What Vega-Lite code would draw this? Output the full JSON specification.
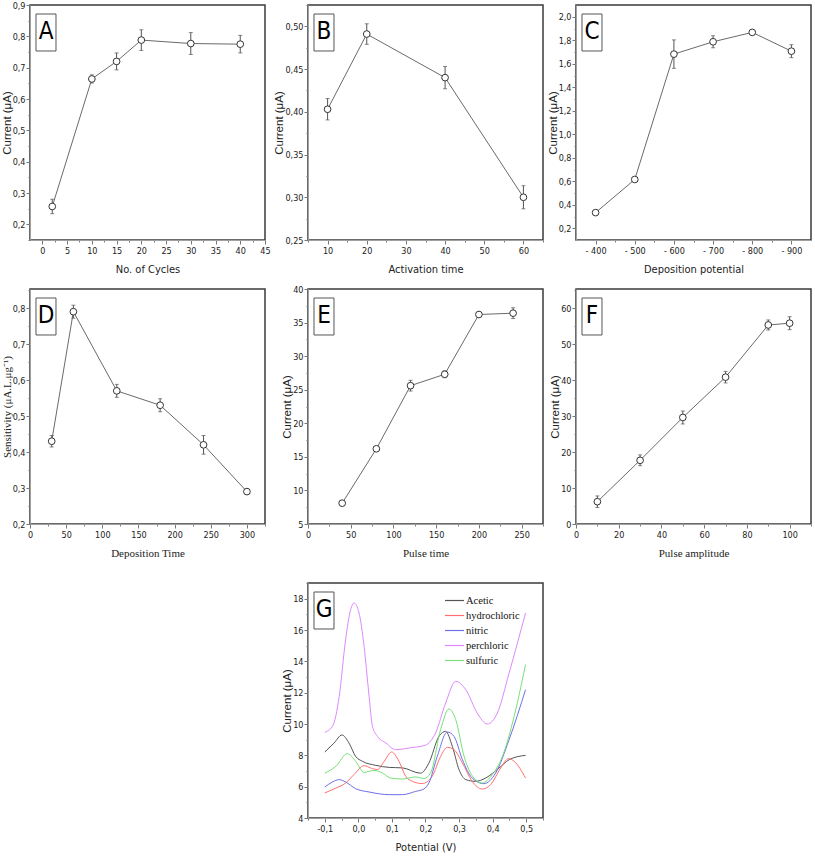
{
  "$schema": "https://vega.github.io/schema/vega-lite/v6.json",
  "background": "white",
  "padding": {"left": 0, "top": 0, "right": 0, "bottom": 0},
  "config": {
    "view": {"stroke": "#3a3a3a", "strokeWidth": 1.5},
    "axis": {
      "grid": false, "domainColor": "#a0a0a0", "domainWidth": 1, "tickColor": "#777", "tickSize": 4,
      "labelFont": "Liberation Sans Narrow, DejaVu Sans Condensed, sans-serif", "labelFontSize": 9, "labelColor": "#222",
      "labelOverlap": false, "labelFlush": false, "labelPadding": 2,
      "titleFont": "Liberation Sans Narrow, DejaVu Sans Condensed, sans-serif", "titleFontSize": 11, "titleFontWeight": "normal", "titleColor": "#222"
    },
    "axisX": {"titlePadding": 8},
    "axisY": {"titlePadding": 0, "labelPadding": 1}
  },
  "datasets": {
    "A": [{"x": 2, "y": 0.257, "e": 0.023}, {"x": 10, "y": 0.664, "e": 0.013}, {"x": 15, "y": 0.72, "e": 0.027}, {"x": 20, "y": 0.788, "e": 0.033}, {"x": 30, "y": 0.777, "e": 0.035}, {"x": 40, "y": 0.775, "e": 0.028}],
    "B": [{"x": 10, "y": 0.403, "e": 0.0125}, {"x": 20, "y": 0.491, "e": 0.012}, {"x": 40, "y": 0.44, "e": 0.013}, {"x": 60, "y": 0.3, "e": 0.0135}],
    "C": [{"x": -400, "y": 0.333, "e": 0.012}, {"x": -500, "y": 0.615, "e": 0.015}, {"x": -600, "y": 1.682, "e": 0.121}, {"x": -700, "y": 1.787, "e": 0.051}, {"x": -800, "y": 1.867, "e": 0.02}, {"x": -900, "y": 1.707, "e": 0.055}],
    "D": [{"x": 30, "y": 0.43, "e": 0.016}, {"x": 60, "y": 0.79, "e": 0.018}, {"x": 120, "y": 0.57, "e": 0.018}, {"x": 180, "y": 0.53, "e": 0.018}, {"x": 240, "y": 0.42, "e": 0.026}, {"x": 300, "y": 0.29, "e": 0.008}],
    "E": [{"x": 40, "y": 8.1, "e": 0.3}, {"x": 80, "y": 16.2, "e": 0.3}, {"x": 120, "y": 25.6, "e": 0.8}, {"x": 160, "y": 27.3, "e": 0.5}, {"x": 200, "y": 36.2, "e": 0.4}, {"x": 240, "y": 36.4, "e": 0.8}],
    "F": [{"x": 10, "y": 6.2, "e": 1.6}, {"x": 30, "y": 17.7, "e": 1.5}, {"x": 50, "y": 29.6, "e": 1.8}, {"x": 70, "y": 40.8, "e": 1.6}, {"x": 90, "y": 55.3, "e": 1.4}, {"x": 100, "y": 55.8, "e": 1.8}],
    "G": [
      {"acid": "Acetic", "v": -0.1, "i": 8.21}, {"acid": "Acetic", "v": -0.072, "i": 8.79}, {"acid": "Acetic", "v": -0.049, "i": 9.3}, {"acid": "Acetic", "v": -0.028, "i": 8.79}, {"acid": "Acetic", "v": -0.008, "i": 7.93}, {"acid": "Acetic", "v": 0.012, "i": 7.62}, {"acid": "Acetic", "v": 0.052, "i": 7.36}, {"acid": "Acetic", "v": 0.092, "i": 7.23}, {"acid": "Acetic", "v": 0.131, "i": 7.2}, {"acid": "Acetic", "v": 0.185, "i": 6.86}, {"acid": "Acetic", "v": 0.21, "i": 7.5}, {"acid": "Acetic", "v": 0.24, "i": 9.21}, {"acid": "Acetic", "v": 0.26, "i": 9.53}, {"acid": "Acetic", "v": 0.28, "i": 8.57}, {"acid": "Acetic", "v": 0.3, "i": 7.08}, {"acid": "Acetic", "v": 0.32, "i": 6.45}, {"acid": "Acetic", "v": 0.349, "i": 6.34}, {"acid": "Acetic", "v": 0.379, "i": 6.55}, {"acid": "Acetic", "v": 0.419, "i": 7.19}, {"acid": "Acetic", "v": 0.449, "i": 7.72}, {"acid": "Acetic", "v": 0.498, "i": 8.0},
      {"acid": "hydrochloric", "v": -0.1, "i": 5.6}, {"acid": "hydrochloric", "v": -0.067, "i": 5.91}, {"acid": "hydrochloric", "v": -0.038, "i": 6.23}, {"acid": "hydrochloric", "v": -0.013, "i": 6.77}, {"acid": "hydrochloric", "v": 0.017, "i": 7.34}, {"acid": "hydrochloric", "v": 0.037, "i": 7.19}, {"acid": "hydrochloric", "v": 0.057, "i": 7.09}, {"acid": "hydrochloric", "v": 0.077, "i": 7.62}, {"acid": "hydrochloric", "v": 0.099, "i": 8.21}, {"acid": "hydrochloric", "v": 0.121, "i": 7.62}, {"acid": "hydrochloric", "v": 0.141, "i": 6.66}, {"acid": "hydrochloric", "v": 0.161, "i": 6.34}, {"acid": "hydrochloric", "v": 0.19, "i": 6.2}, {"acid": "hydrochloric", "v": 0.22, "i": 6.66}, {"acid": "hydrochloric", "v": 0.245, "i": 7.93}, {"acid": "hydrochloric", "v": 0.265, "i": 8.51}, {"acid": "hydrochloric", "v": 0.285, "i": 8.36}, {"acid": "hydrochloric", "v": 0.31, "i": 7.51}, {"acid": "hydrochloric", "v": 0.339, "i": 6.34}, {"acid": "hydrochloric", "v": 0.369, "i": 5.85}, {"acid": "hydrochloric", "v": 0.394, "i": 6.13}, {"acid": "hydrochloric", "v": 0.424, "i": 7.19}, {"acid": "hydrochloric", "v": 0.447, "i": 7.79}, {"acid": "hydrochloric", "v": 0.464, "i": 7.62}, {"acid": "hydrochloric", "v": 0.498, "i": 6.55},
      {"acid": "nitric", "v": -0.1, "i": 5.98}, {"acid": "nitric", "v": -0.077, "i": 6.3}, {"acid": "nitric", "v": -0.057, "i": 6.45}, {"acid": "nitric", "v": -0.038, "i": 6.3}, {"acid": "nitric", "v": -0.008, "i": 5.87}, {"acid": "nitric", "v": 0.032, "i": 5.66}, {"acid": "nitric", "v": 0.092, "i": 5.49}, {"acid": "nitric", "v": 0.131, "i": 5.49}, {"acid": "nitric", "v": 0.171, "i": 5.7}, {"acid": "nitric", "v": 0.195, "i": 5.85}, {"acid": "nitric", "v": 0.21, "i": 6.23}, {"acid": "nitric", "v": 0.235, "i": 7.93}, {"acid": "nitric", "v": 0.265, "i": 9.49}, {"acid": "nitric", "v": 0.285, "i": 9.21}, {"acid": "nitric", "v": 0.31, "i": 7.72}, {"acid": "nitric", "v": 0.339, "i": 6.55}, {"acid": "nitric", "v": 0.374, "i": 6.19}, {"acid": "nitric", "v": 0.409, "i": 6.87}, {"acid": "nitric", "v": 0.449, "i": 9.0}, {"acid": "nitric", "v": 0.498, "i": 12.19},
      {"acid": "perchloric", "v": -0.1, "i": 9.47}, {"acid": "perchloric", "v": -0.077, "i": 9.85}, {"acid": "perchloric", "v": -0.057, "i": 11.77}, {"acid": "perchloric", "v": -0.038, "i": 15.38}, {"acid": "perchloric", "v": -0.023, "i": 17.3}, {"acid": "perchloric", "v": -0.013, "i": 17.72}, {"acid": "perchloric", "v": 0.002, "i": 17.09}, {"acid": "perchloric", "v": 0.017, "i": 14.96}, {"acid": "perchloric", "v": 0.032, "i": 11.77}, {"acid": "perchloric", "v": 0.042, "i": 9.85}, {"acid": "perchloric", "v": 0.057, "i": 9.21}, {"acid": "perchloric", "v": 0.082, "i": 8.79}, {"acid": "perchloric", "v": 0.111, "i": 8.36}, {"acid": "perchloric", "v": 0.151, "i": 8.47}, {"acid": "perchloric", "v": 0.2, "i": 8.65}, {"acid": "perchloric", "v": 0.23, "i": 9.43}, {"acid": "perchloric", "v": 0.26, "i": 11.34}, {"acid": "perchloric", "v": 0.29, "i": 12.72}, {"acid": "perchloric", "v": 0.32, "i": 12.19}, {"acid": "perchloric", "v": 0.354, "i": 10.7}, {"acid": "perchloric", "v": 0.384, "i": 10.0}, {"acid": "perchloric", "v": 0.414, "i": 10.7}, {"acid": "perchloric", "v": 0.449, "i": 13.25}, {"acid": "perchloric", "v": 0.498, "i": 17.09},
      {"acid": "sulfuric", "v": -0.1, "i": 6.87}, {"acid": "sulfuric", "v": -0.067, "i": 7.3}, {"acid": "sulfuric", "v": -0.033, "i": 8.11}, {"acid": "sulfuric", "v": -0.008, "i": 7.62}, {"acid": "sulfuric", "v": 0.017, "i": 6.91}, {"acid": "sulfuric", "v": 0.047, "i": 7.04}, {"acid": "sulfuric", "v": 0.072, "i": 6.87}, {"acid": "sulfuric", "v": 0.096, "i": 6.55}, {"acid": "sulfuric", "v": 0.131, "i": 6.49}, {"acid": "sulfuric", "v": 0.171, "i": 6.62}, {"acid": "sulfuric", "v": 0.195, "i": 6.52}, {"acid": "sulfuric", "v": 0.215, "i": 6.87}, {"acid": "sulfuric", "v": 0.245, "i": 9.64}, {"acid": "sulfuric", "v": 0.27, "i": 10.96}, {"acid": "sulfuric", "v": 0.29, "i": 10.28}, {"acid": "sulfuric", "v": 0.315, "i": 7.93}, {"acid": "sulfuric", "v": 0.344, "i": 6.55}, {"acid": "sulfuric", "v": 0.369, "i": 6.23}, {"acid": "sulfuric", "v": 0.399, "i": 6.77}, {"acid": "sulfuric", "v": 0.429, "i": 7.93}, {"acid": "sulfuric", "v": 0.459, "i": 10.06}, {"acid": "sulfuric", "v": 0.498, "i": 13.79}
    ]
  },
  "bounds": "flush",
  "align": "each",
  "spacing": 0,
  "columns": 5,
  "concat": [
    {
      "width": 235, "height": 235,
      "resolve": {"scale": {"x": "independent", "y": "independent"}},
      "layer": [
        {
          "data": {"name": "A"},
          "encoding": {
            "x": {"field": "x", "type": "quantitative", "title": "No. of Cycles", "scale": {"domain": [-2.5, 45], "nice": false, "zero": false},
                  "axis": {"values": [0, 2.5, 5, 7.5, 10, 12.5, 15, 17.5, 20, 22.5, 25, 27.5, 30, 32.5, 35, 37.5, 40, 42.5, 45],
                           "labelExpr": "datum.value % 5 == 0 ? datum.label : ''",
                           "tickSize": {"condition": {"test": "datum.value % 5 != 0", "value": 2}, "value": 4}}},
            "y": {"field": "y", "type": "quantitative", "title": "Current (μA)", "scale": {"domain": [0.15, 0.9], "nice": false, "zero": false},
                  "axis": {"titleFont": "Liberation Sans, Arial, sans-serif", "titleFontSize": 11.5,
                           "values": [0.15, 0.2, 0.25, 0.3, 0.35, 0.4, 0.45, 0.5, 0.55, 0.6, 0.65, 0.7, 0.75, 0.8, 0.85, 0.9],
                           "labelExpr": "abs(datum.value*10 - round(datum.value*10)) < 0.001 ? replace(format(datum.value, '.1f'), '.', ',') : ''",
                           "tickSize": {"condition": {"test": "abs(datum.value*10 - round(datum.value*10)) > 0.001", "value": 2}, "value": 4}}}
          },
          "layer": [
            {"mark": {"type": "line", "color": "#6a6a6a", "strokeWidth": 1}},
            {"mark": {"type": "errorbar", "ticks": {"size": 4}, "color": "#555", "thickness": 1}, "encoding": {"yError": {"field": "e"}}},
            {"mark": {"type": "point", "shape": "circle", "filled": true, "fill": "white", "stroke": "#333", "strokeWidth": 1, "size": 45, "opacity": 1}}
          ]
        },
        {
          "data": {"values": [{}]},
          "layer": [
            {"mark": {"type": "rect", "fill": "white", "stroke": "#555", "strokeWidth": 1},
             "encoding": {"x": {"datum": 0.0255, "type": "quantitative", "scale": {"domain": [0, 1]}, "axis": null}, "x2": {"datum": 0.1106}, "y": {"datum": 0.9617, "type": "quantitative", "scale": {"domain": [0, 1]}, "axis": null}, "y2": {"datum": 0.8043}}},
            {"mark": {"type": "text", "text": "A", "font": "Liberation Sans Narrow, DejaVu Sans Condensed, sans-serif", "fontSize": 24, "color": "#000", "baseline": "middle", "align": "center"},
             "encoding": {"x": {"datum": 0.0681, "type": "quantitative", "scale": {"domain": [0, 1]}, "axis": null}, "y": {"datum": 0.883, "type": "quantitative", "scale": {"domain": [0, 1]}, "axis": null}}}
          ]
        }
      ]
    },
    {"width": 43, "height": 1, "view": {"stroke": null}, "data": {"values": [{}]}, "mark": {"type": "point", "opacity": 0}, "encoding": {}},
    {
      "width": 235, "height": 235,
      "resolve": {"scale": {"x": "independent", "y": "independent"}},
      "layer": [
        {
          "data": {"name": "B"},
          "encoding": {
            "x": {"field": "x", "type": "quantitative", "title": "Activation time", "scale": {"domain": [5, 65], "nice": false, "zero": false},
                  "axis": {"values": [5, 10, 15, 20, 25, 30, 35, 40, 45, 50, 55, 60, 65],
                           "labelExpr": "datum.value % 10 == 0 ? datum.label : ''",
                           "tickSize": {"condition": {"test": "datum.value % 10 != 0", "value": 2}, "value": 4}}},
            "y": {"field": "y", "type": "quantitative", "title": "Current (μA)", "scale": {"domain": [0.25, 0.525], "nice": false, "zero": false},
                  "axis": {"titleFont": "Liberation Sans, Arial, sans-serif", "titleFontSize": 11.5,
                           "values": [0.25, 0.275, 0.3, 0.325, 0.35, 0.375, 0.4, 0.425, 0.45, 0.475, 0.5, 0.525],
                           "labelExpr": "abs(datum.value*20 - round(datum.value*20)) < 0.001 ? replace(format(datum.value, '.2f'), '.', ',') : ''",
                           "tickSize": {"condition": {"test": "abs(datum.value*20 - round(datum.value*20)) > 0.001", "value": 2}, "value": 4}}}
          },
          "layer": [
            {"mark": {"type": "line", "color": "#6a6a6a", "strokeWidth": 1}},
            {"mark": {"type": "errorbar", "ticks": {"size": 4}, "color": "#555", "thickness": 1}, "encoding": {"yError": {"field": "e"}}},
            {"mark": {"type": "point", "shape": "circle", "filled": true, "fill": "white", "stroke": "#333", "strokeWidth": 1, "size": 45, "opacity": 1}}
          ]
        },
        {
          "data": {"values": [{}]},
          "layer": [
            {"mark": {"type": "rect", "fill": "white", "stroke": "#555", "strokeWidth": 1},
             "encoding": {"x": {"datum": 0.0255, "type": "quantitative", "scale": {"domain": [0, 1]}, "axis": null}, "x2": {"datum": 0.1106}, "y": {"datum": 0.9617, "type": "quantitative", "scale": {"domain": [0, 1]}, "axis": null}, "y2": {"datum": 0.8043}}},
            {"mark": {"type": "text", "text": "B", "font": "Liberation Sans Narrow, DejaVu Sans Condensed, sans-serif", "fontSize": 24, "color": "#000", "baseline": "middle", "align": "center"},
             "encoding": {"x": {"datum": 0.0681, "type": "quantitative", "scale": {"domain": [0, 1]}, "axis": null}, "y": {"datum": 0.883, "type": "quantitative", "scale": {"domain": [0, 1]}, "axis": null}}}
          ]
        }
      ]
    },
    {"width": 33, "height": 1, "view": {"stroke": null}, "data": {"values": [{}]}, "mark": {"type": "point", "opacity": 0}, "encoding": {}},
    {
      "width": 235, "height": 235,
      "resolve": {"scale": {"x": "independent", "y": "independent"}},
      "layer": [
        {
          "data": {"name": "C"},
          "encoding": {
            "x": {"field": "x", "type": "quantitative", "title": "Deposition potential", "scale": {"domain": [-950, -350], "reverse": true, "nice": false, "zero": false},
                  "axis": {"values": [-400, -450, -500, -550, -600, -650, -700, -750, -800, -850, -900],
                           "labelExpr": "datum.value % 100 == 0 ? '- ' + abs(datum.value) : ''",
                           "tickSize": {"condition": {"test": "datum.value % 100 != 0", "value": 2}, "value": 4}}},
            "y": {"field": "y", "type": "quantitative", "title": "Current (μA)", "scale": {"domain": [0.1, 2.1], "nice": false, "zero": false},
                  "axis": {"titleFont": "Liberation Sans, Arial, sans-serif", "titleFontSize": 11.5,
                           "values": [0.2, 0.3, 0.4, 0.5, 0.6, 0.7, 0.8, 0.9, 1.0, 1.1, 1.2, 1.3, 1.4, 1.5, 1.6, 1.7, 1.8, 1.9, 2.0],
                           "labelExpr": "abs(datum.value*5 - round(datum.value*5)) < 0.001 ? replace(format(datum.value, '.1f'), '.', ',') : ''",
                           "tickSize": {"condition": {"test": "abs(datum.value*5 - round(datum.value*5)) > 0.001", "value": 2}, "value": 4}}}
          },
          "layer": [
            {"mark": {"type": "line", "color": "#6a6a6a", "strokeWidth": 1}},
            {"mark": {"type": "errorbar", "ticks": {"size": 4}, "color": "#555", "thickness": 1}, "encoding": {"yError": {"field": "e"}}},
            {"mark": {"type": "point", "shape": "circle", "filled": true, "fill": "white", "stroke": "#333", "strokeWidth": 1, "size": 45, "opacity": 1}}
          ]
        },
        {
          "data": {"values": [{}]},
          "layer": [
            {"mark": {"type": "rect", "fill": "white", "stroke": "#555", "strokeWidth": 1},
             "encoding": {"x": {"datum": 0.0255, "type": "quantitative", "scale": {"domain": [0, 1]}, "axis": null}, "x2": {"datum": 0.1106}, "y": {"datum": 0.9617, "type": "quantitative", "scale": {"domain": [0, 1]}, "axis": null}, "y2": {"datum": 0.8043}}},
            {"mark": {"type": "text", "text": "C", "font": "Liberation Sans Narrow, DejaVu Sans Condensed, sans-serif", "fontSize": 24, "color": "#000", "baseline": "middle", "align": "center"},
             "encoding": {"x": {"datum": 0.0681, "type": "quantitative", "scale": {"domain": [0, 1]}, "axis": null}, "y": {"datum": 0.883, "type": "quantitative", "scale": {"domain": [0, 1]}, "axis": null}}}
          ]
        }
      ]
    },
    {"width": 1, "height": 49, "view": {"stroke": null}, "data": {"values": [{}]}, "mark": {"type": "point", "opacity": 0}, "encoding": {}},
    {"width": 1, "height": 49, "view": {"stroke": null}, "data": {"values": [{}]}, "mark": {"type": "point", "opacity": 0}, "encoding": {}},
    {"width": 1, "height": 49, "view": {"stroke": null}, "data": {"values": [{}]}, "mark": {"type": "point", "opacity": 0}, "encoding": {}},
    {"width": 1, "height": 49, "view": {"stroke": null}, "data": {"values": [{}]}, "mark": {"type": "point", "opacity": 0}, "encoding": {}},
    {"width": 1, "height": 49, "view": {"stroke": null}, "data": {"values": [{}]}, "mark": {"type": "point", "opacity": 0}, "encoding": {}},
    {
      "width": 235, "height": 235,
      "resolve": {"scale": {"x": "independent", "y": "independent"}},
      "layer": [
        {
          "data": {"name": "D"},
          "encoding": {
            "x": {"field": "x", "type": "quantitative", "title": "Deposition Time", "scale": {"domain": [0, 325], "nice": false, "zero": false},
                  "axis": {"titleFont": "Liberation Serif, Times New Roman, serif", "titleFontSize": 11,
                           "values": [0, 25, 50, 75, 100, 125, 150, 175, 200, 225, 250, 275, 300, 325],
                           "labelExpr": "datum.value % 50 == 0 ? datum.label : ''",
                           "tickSize": {"condition": {"test": "datum.value % 50 != 0", "value": 2}, "value": 4}}},
            "y": {"field": "y", "type": "quantitative", "title": "Sensitivity (μA.L.μg⁻¹)", "scale": {"domain": [0.2, 0.853], "nice": false, "zero": false},
                  "axis": {"titleFont": "Liberation Serif, Times New Roman, serif", "titleFontSize": 11,
                           "values": [0.2, 0.25, 0.3, 0.35, 0.4, 0.45, 0.5, 0.55, 0.6, 0.65, 0.7, 0.75, 0.8, 0.85],
                           "labelExpr": "abs(datum.value*10 - round(datum.value*10)) < 0.001 ? replace(format(datum.value, '.1f'), '.', ',') : ''",
                           "tickSize": {"condition": {"test": "abs(datum.value*10 - round(datum.value*10)) > 0.001", "value": 2}, "value": 4}}}
          },
          "layer": [
            {"mark": {"type": "line", "color": "#6a6a6a", "strokeWidth": 1}},
            {"mark": {"type": "errorbar", "ticks": {"size": 4}, "color": "#555", "thickness": 1}, "encoding": {"yError": {"field": "e"}}},
            {"mark": {"type": "point", "shape": "circle", "filled": true, "fill": "white", "stroke": "#333", "strokeWidth": 1, "size": 45, "opacity": 1}}
          ]
        },
        {
          "data": {"values": [{}]},
          "layer": [
            {"mark": {"type": "rect", "fill": "white", "stroke": "#555", "strokeWidth": 1},
             "encoding": {"x": {"datum": 0.0255, "type": "quantitative", "scale": {"domain": [0, 1]}, "axis": null}, "x2": {"datum": 0.1106}, "y": {"datum": 0.9617, "type": "quantitative", "scale": {"domain": [0, 1]}, "axis": null}, "y2": {"datum": 0.8043}}},
            {"mark": {"type": "text", "text": "D", "font": "Liberation Sans Narrow, DejaVu Sans Condensed, sans-serif", "fontSize": 24, "color": "#000", "baseline": "middle", "align": "center"},
             "encoding": {"x": {"datum": 0.0681, "type": "quantitative", "scale": {"domain": [0, 1]}, "axis": null}, "y": {"datum": 0.883, "type": "quantitative", "scale": {"domain": [0, 1]}, "axis": null}}}
          ]
        }
      ]
    },
    {"width": 43, "height": 1, "view": {"stroke": null}, "data": {"values": [{}]}, "mark": {"type": "point", "opacity": 0}, "encoding": {}},
    {
      "width": 235, "height": 235,
      "resolve": {"scale": {"x": "independent", "y": "independent"}},
      "layer": [
        {
          "data": {"name": "E"},
          "encoding": {
            "x": {"field": "x", "type": "quantitative", "title": "Pulse time", "scale": {"domain": [0, 275], "nice": false, "zero": false},
                  "axis": {"titleFont": "Liberation Serif, Times New Roman, serif", "titleFontSize": 11,
                           "values": [0, 25, 50, 75, 100, 125, 150, 175, 200, 225, 250, 275],
                           "labelExpr": "datum.value % 50 == 0 ? datum.label : ''",
                           "tickSize": {"condition": {"test": "datum.value % 50 != 0", "value": 2}, "value": 4}}},
            "y": {"field": "y", "type": "quantitative", "title": "Current (μA)", "scale": {"domain": [5, 40], "nice": false, "zero": false},
                  "axis": {"titleFont": "Liberation Sans, Arial, sans-serif", "titleFontSize": 11.5,
                           "values": [5, 7.5, 10, 12.5, 15, 17.5, 20, 22.5, 25, 27.5, 30, 32.5, 35, 37.5, 40],
                           "labelExpr": "datum.value % 5 == 0 ? datum.label : ''",
                           "tickSize": {"condition": {"test": "datum.value % 5 != 0", "value": 2}, "value": 4}}}
          },
          "layer": [
            {"mark": {"type": "line", "color": "#6a6a6a", "strokeWidth": 1}},
            {"mark": {"type": "errorbar", "ticks": {"size": 4}, "color": "#555", "thickness": 1}, "encoding": {"yError": {"field": "e"}}},
            {"mark": {"type": "point", "shape": "circle", "filled": true, "fill": "white", "stroke": "#333", "strokeWidth": 1, "size": 45, "opacity": 1}}
          ]
        },
        {
          "data": {"values": [{}]},
          "layer": [
            {"mark": {"type": "rect", "fill": "white", "stroke": "#555", "strokeWidth": 1},
             "encoding": {"x": {"datum": 0.0255, "type": "quantitative", "scale": {"domain": [0, 1]}, "axis": null}, "x2": {"datum": 0.1106}, "y": {"datum": 0.9617, "type": "quantitative", "scale": {"domain": [0, 1]}, "axis": null}, "y2": {"datum": 0.8043}}},
            {"mark": {"type": "text", "text": "E", "font": "Liberation Sans Narrow, DejaVu Sans Condensed, sans-serif", "fontSize": 24, "color": "#000", "baseline": "middle", "align": "center"},
             "encoding": {"x": {"datum": 0.0681, "type": "quantitative", "scale": {"domain": [0, 1]}, "axis": null}, "y": {"datum": 0.883, "type": "quantitative", "scale": {"domain": [0, 1]}, "axis": null}}}
          ]
        }
      ]
    },
    {"width": 33, "height": 1, "view": {"stroke": null}, "data": {"values": [{}]}, "mark": {"type": "point", "opacity": 0}, "encoding": {}},
    {
      "width": 235, "height": 235,
      "resolve": {"scale": {"x": "independent", "y": "independent"}},
      "layer": [
        {
          "data": {"name": "F"},
          "encoding": {
            "x": {"field": "x", "type": "quantitative", "title": "Pulse amplitude", "scale": {"domain": [0, 110], "nice": false, "zero": false},
                  "axis": {"titleFont": "Liberation Serif, Times New Roman, serif", "titleFontSize": 11,
                           "values": [0, 10, 20, 30, 40, 50, 60, 70, 80, 90, 100, 110],
                           "labelExpr": "datum.value % 20 == 0 ? datum.label : ''",
                           "tickSize": {"condition": {"test": "datum.value % 20 != 0", "value": 2}, "value": 4}}},
            "y": {"field": "y", "type": "quantitative", "title": "Current (μA)", "scale": {"domain": [0, 65.3], "nice": false, "zero": false},
                  "axis": {"titleFont": "Liberation Sans, Arial, sans-serif", "titleFontSize": 11.5,
                           "values": [0, 5, 10, 15, 20, 25, 30, 35, 40, 45, 50, 55, 60, 65],
                           "labelExpr": "datum.value % 10 == 0 ? datum.label : ''",
                           "tickSize": {"condition": {"test": "datum.value % 10 != 0", "value": 2}, "value": 4}}}
          },
          "layer": [
            {"mark": {"type": "line", "color": "#6a6a6a", "strokeWidth": 1}},
            {"mark": {"type": "errorbar", "ticks": {"size": 4}, "color": "#555", "thickness": 1}, "encoding": {"yError": {"field": "e"}}},
            {"mark": {"type": "point", "shape": "circle", "filled": true, "fill": "white", "stroke": "#333", "strokeWidth": 1, "size": 45, "opacity": 1}}
          ]
        },
        {
          "data": {"values": [{}]},
          "layer": [
            {"mark": {"type": "rect", "fill": "white", "stroke": "#555", "strokeWidth": 1},
             "encoding": {"x": {"datum": 0.0255, "type": "quantitative", "scale": {"domain": [0, 1]}, "axis": null}, "x2": {"datum": 0.1106}, "y": {"datum": 0.9617, "type": "quantitative", "scale": {"domain": [0, 1]}, "axis": null}, "y2": {"datum": 0.8043}}},
            {"mark": {"type": "text", "text": "F", "font": "Liberation Sans Narrow, DejaVu Sans Condensed, sans-serif", "fontSize": 24, "color": "#000", "baseline": "middle", "align": "center"},
             "encoding": {"x": {"datum": 0.0681, "type": "quantitative", "scale": {"domain": [0, 1]}, "axis": null}, "y": {"datum": 0.883, "type": "quantitative", "scale": {"domain": [0, 1]}, "axis": null}}}
          ]
        }
      ]
    },
    {"width": 1, "height": 59, "view": {"stroke": null}, "data": {"values": [{}]}, "mark": {"type": "point", "opacity": 0}, "encoding": {}},
    {"width": 1, "height": 59, "view": {"stroke": null}, "data": {"values": [{}]}, "mark": {"type": "point", "opacity": 0}, "encoding": {}},
    {"width": 1, "height": 59, "view": {"stroke": null}, "data": {"values": [{}]}, "mark": {"type": "point", "opacity": 0}, "encoding": {}},
    {"width": 1, "height": 59, "view": {"stroke": null}, "data": {"values": [{}]}, "mark": {"type": "point", "opacity": 0}, "encoding": {}},
    {"width": 1, "height": 59, "view": {"stroke": null}, "data": {"values": [{}]}, "mark": {"type": "point", "opacity": 0}, "encoding": {}},
    {"width": 1, "height": 1, "view": {"stroke": null}, "data": {"values": [{}]}, "mark": {"type": "point", "opacity": 0}, "encoding": {}},
    {"width": 1, "height": 1, "view": {"stroke": null}, "data": {"values": [{}]}, "mark": {"type": "point", "opacity": 0}, "encoding": {}},
    {
      "width": 235, "height": 235,
      "resolve": {"scale": {"x": "independent", "y": "independent"}},
      "layer": [
        {"data": {"name": "G"}, "mark": {"type": "line", "strokeWidth": 1, "interpolate": "monotone"},
         "encoding": {
           "x": {"field": "v", "type": "quantitative", "title": "Potential (V)", "scale": {"domain": [-0.15, 0.55], "nice": false, "zero": false},
                 "axis": {"values": [-0.15, -0.1, -0.05, 0, 0.05, 0.1, 0.15, 0.2, 0.25, 0.3, 0.35, 0.4, 0.45, 0.5, 0.55],
                          "labelExpr": "abs(datum.value*10 - round(datum.value*10)) < 0.001 ? (datum.value < -0.001 ? '-' : '') + replace(format(abs(datum.value), '.1f'), '.', ',') : ''",
                          "tickSize": {"condition": {"test": "abs(datum.value*10 - round(datum.value*10)) > 0.001", "value": 2}, "value": 4}}},
           "y": {"field": "i", "type": "quantitative", "title": "Current (μA)", "scale": {"domain": [4, 19], "nice": false, "zero": false},
                 "axis": {"titleFont": "Liberation Sans, Arial, sans-serif", "titleFontSize": 11.5,
                          "values": [4, 5, 6, 7, 8, 9, 10, 11, 12, 13, 14, 15, 16, 17, 18, 19],
                          "labelExpr": "datum.value % 2 == 0 ? datum.label : ''",
                          "tickSize": {"condition": {"test": "datum.value % 2 != 0", "value": 2}, "value": 4}}},
           "color": {"field": "acid", "type": "nominal",
                     "scale": {"domain": ["Acetic", "hydrochloric", "nitric", "perchloric", "sulfuric"], "range": ["#555555", "#ff6f6f", "#6f6fe8", "#dd88ff", "#77e077"]},
                     "legend": {"title": null, "orient": "none", "legendX": 419, "legendY": 590, "padding": 0,
                                "symbolType": "M-2,0L2,0", "symbolSize": 90, "symbolStrokeWidth": 1.2,
                                "labelFont": "Liberation Serif, Times New Roman, serif", "labelFontSize": 10.5, "labelColor": "#111",
                                "labelOffset": 6, "rowPadding": 4}}
         }},
        {
          "data": {"values": [{}]},
          "layer": [
            {"mark": {"type": "rect", "fill": "white", "stroke": "#555", "strokeWidth": 1},
             "encoding": {"x": {"datum": 0.0255, "type": "quantitative", "scale": {"domain": [0, 1]}, "axis": null}, "x2": {"datum": 0.1106}, "y": {"datum": 0.9617, "type": "quantitative", "scale": {"domain": [0, 1]}, "axis": null}, "y2": {"datum": 0.8043}}},
            {"mark": {"type": "text", "text": "G", "font": "Liberation Sans Narrow, DejaVu Sans Condensed, sans-serif", "fontSize": 24, "color": "#000", "baseline": "middle", "align": "center"},
             "encoding": {"x": {"datum": 0.0681, "type": "quantitative", "scale": {"domain": [0, 1]}, "axis": null}, "y": {"datum": 0.883, "type": "quantitative", "scale": {"domain": [0, 1]}, "axis": null}}}
          ]
        }
      ]
    }
  ]
}
